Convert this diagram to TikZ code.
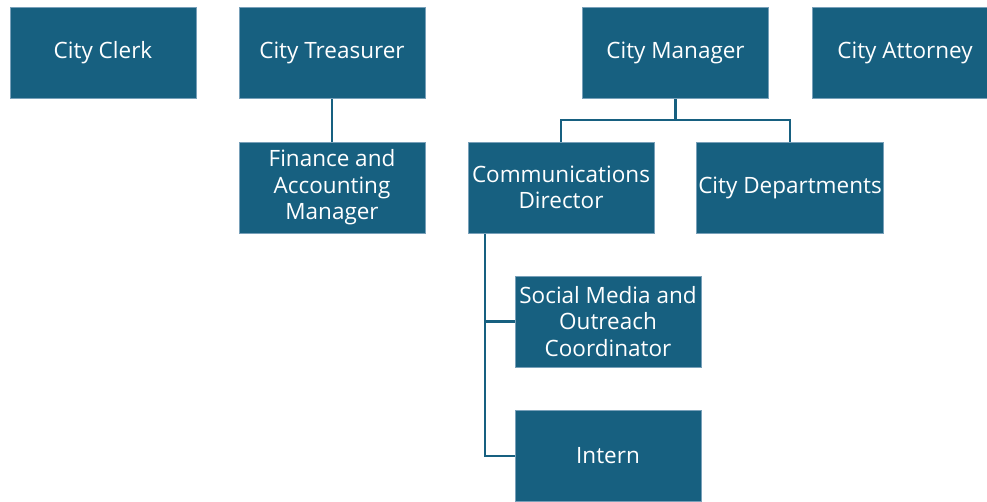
\documentclass[tikz,border=0pt]{standalone}
\usepackage{fontspec}
\setmainfont{Open Sans}
\usepackage{tikz}
\pgfdeclarelayer{bg}
\pgfsetlayers{bg,main}
\definecolor{boxblue}{RGB}{23,96,128}
\definecolor{boxedge}{RGB}{120,160,185}
\tikzset{
    every node/.style={rectangle, fill=boxblue, draw=boxedge, line width=0.6pt,
        text=white, minimum width=186pt, minimum height=91pt, inner sep=2pt,
        align=center, font=\fontsize{22.5}{26.5}\selectfont}
}
\tikzset{link/.style={draw=boxblue, line width=2.6pt}}

\begin{document}
\begin{tikzpicture}[x=1pt, y=-1pt]
    \useasboundingbox (0,0) rectangle (987,502);
    \clip (0,0) rectangle (987,502);

    \node (clerk) at (103, 53) {City Clerk};
    \node (treas) at (332, 53) {City Treasurer};
    \node (mgr) at (675.5, 53) {City Manager};
    \node (atty) at (905, 53) {City Attorney};
    \node (fin) at (332, 187.5) {Finance and\\Accounting\\Manager};
    \node (comm) at (561, 187.5) {Communications\\Director};
    \node (dept) at (790, 187.5) {City Departments};
    \node (social) at (608, 321.5) {Social Media and\\Outreach\\Coordinator};
    \node (intern) at (608, 456) {Intern};

    \coordinate (bus) at (675.5, 120);
    \coordinate (trunk) at (485, 233);

    \begin{pgfonlayer}{bg}
        \draw[link] (treas) -- (fin);
        \draw[link] (mgr.south) -- (bus) -| (comm.north);
        \draw[link] (bus) -| (dept.north);
        \draw[link] (trunk) |- (social.west);
        \draw[link] (trunk) |- (intern.west);
    \end{pgfonlayer}
\end{tikzpicture}
\end{document}
